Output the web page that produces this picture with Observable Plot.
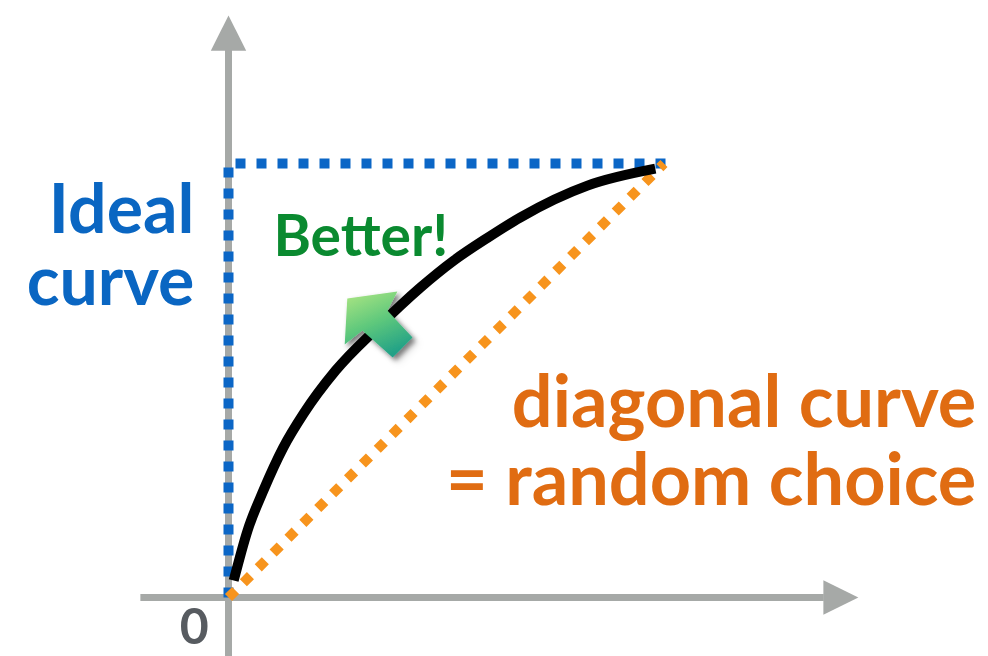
<!DOCTYPE html>
<html><head><meta charset="utf-8">
<script src="https://cdn.jsdelivr.net/npm/d3@7"></script>
<script src="https://cdn.jsdelivr.net/npm/@observablehq/plot@0.6"></script>
<style>html,body{margin:0;padding:0;background:#fff;} #chart svg{display:block;}</style>
</head><body><div id="chart"></div>
<script>
// Classifier curve: false-positive share vs true-positive share
const curveX = [0.012, 0.044, 0.081, 0.127, 0.174, 0.248, 0.345, 0.444, 0.521, 0.600, 0.676, 0.831, 0.988];
const curveY = [0.039, 0.154, 0.247, 0.346, 0.424, 0.523, 0.622, 0.714, 0.776, 0.829, 0.876, 0.949, 0.988];
// Ideal curve: straight up, then across
const idealX = [0, 0, 1.018];
const idealY = [0, 1, 1];
// Diagonal = random choice
const diagX = [0, 1.008];
const diagY = [0, 1];
// Axis lines (with arrowheads)
const vAxisY = [-0.14, 1.262];
const hAxisX = [-0.204, 1.378];
const vHeadX = [-0.041, 0.041, 0];
const vHeadY = [1.260, 1.260, 1.341];
const hHeadX = [1.377, 1.377, 1.458];
const hHeadY = [0.040, -0.040, 0];
// "Better!" arrow outline
const betterX = [0.275, 0.391, 0.368, 0.426, 0.380, 0.310, 0.269];
const betterY = [0.689, 0.705, 0.661, 0.599, 0.553, 0.615, 0.583];
// Labels
const blueText = ["Ideal", "curve"];
const blueX = [-0.079, -0.079];
const blueY = [0.841, 0.673];
const greenText = ["Better!"];
const greenX = [0.104];
const greenY = [0.788];
const orangeText = ["diagonal curve", "= random choice"];
const orangeX = [1.731, 1.731];
const orangeY = [0.394, 0.212];
const zeroText = ["0"];
const zeroX = [-0.079];
const zeroY = [-0.108];

const pts = (xs, ys) => xs.map((x, i) => ({x, y: ys[i]}));
const lbl = (ts, xs, ys) => ts.map((t, i) => ({t, x: xs[i], y: ys[i]}));

const gray = "#a6a9a7";
const FONT = "Lato, 'Open Sans', sans-serif";

const chart = Plot.plot({
  width: 988, height: 656,
  marginLeft: 228, marginRight: 328, marginTop: 163, marginBottom: 59,
  x: {domain: [0, 1], axis: null},
  y: {domain: [0, 1], axis: null},
  style: {background: "white", overflow: "visible"},
  marks: [
    Plot.line(pts([0, 0], vAxisY), {x: "x", y: "y", stroke: gray, strokeWidth: 7, strokeLinecap: "butt"}),
    Plot.line(pts(hAxisX, [0, 0]), {x: "x", y: "y", stroke: gray, strokeWidth: 7, strokeLinecap: "butt"}),
    Plot.line(pts(vHeadX, vHeadY), {x: "x", y: "y", fill: gray, stroke: "none"}),
    Plot.line(pts(hHeadX, hHeadY), {x: "x", y: "y", fill: gray, stroke: "none"}),
    Plot.line(pts(idealX, idealY), {x: "x", y: "y", stroke: "#0b66c6", strokeWidth: 10, strokeDasharray: "10,11", strokeLinecap: "butt", strokeLinejoin: "miter"}),
    Plot.line(pts(diagX, diagY), {x: "x", y: "y", stroke: "#f7941d", strokeWidth: 10, strokeDasharray: "10,11", strokeLinecap: "butt"}),
    Plot.line(pts(curveX, curveY), {x: "x", y: "y", stroke: "black", strokeWidth: 10, strokeLinecap: "butt", curve: "monotone-x"}),
    Plot.line(pts(betterX, betterY), {x: "x", y: "y", fill: "url(#betterGrad)", stroke: "none"}),
    Plot.text(lbl(blueText, blueX, blueY), {x: "x", y: "y", text: "t", textAnchor: "end", lineAnchor: "bottom", fill: "#0a66c2", fontSize: 68, fontWeight: 700, fontFamily: FONT}),
    Plot.text(lbl(greenText, greenX, greenY), {x: "x", y: "y", text: "t", textAnchor: "start", lineAnchor: "bottom", fill: "#0a8a30", fontSize: 57, fontWeight: 700, fontFamily: FONT}),
    Plot.text(lbl(orangeText, orangeX, orangeY), {x: "x", y: "y", text: "t", textAnchor: "end", lineAnchor: "bottom", fill: "#e06c12", fontSize: 72, fontWeight: 700, fontFamily: FONT}),
    Plot.text(lbl(zeroText, zeroX, zeroY), {x: "x", y: "y", text: "t", textAnchor: "middle", lineAnchor: "bottom", fill: "#575b60", fontSize: 50, fontWeight: 700, fontFamily: FONT})
  ]
});

// gradient + soft shadow for the "Better!" arrow
const svg = d3.select(chart);
const defs = svg.insert("defs", ":first-child");
const g = defs.append("linearGradient").attr("id", "betterGrad")
  .attr("x1", 0.15).attr("y1", 0).attr("x2", 0.6).attr("y2", 1);
g.append("stop").attr("offset", 0).attr("stop-color", "#a8e482");
g.append("stop").attr("offset", 0.5).attr("stop-color", "#5ec87c");
g.append("stop").attr("offset", 1).attr("stop-color", "#20a087");
const f = defs.append("filter").attr("id", "betterShadow").attr("x", "-20%").attr("y", "-20%").attr("width", "150%").attr("height", "150%");
f.append("feDropShadow").attr("dx", 3).attr("dy", 3).attr("stdDeviation", 2.5).attr("flood-color", "#000").attr("flood-opacity", 0.3);
svg.selectAll("path").filter(function() { return (this.getAttribute("fill") || this.parentNode.getAttribute("fill") || "").startsWith("url(#betterGrad"); })
  .attr("filter", "url(#betterShadow)");
svg.selectAll("g").filter(function() { return (this.getAttribute("fill") || "").startsWith("url(#betterGrad"); })
  .attr("filter", "url(#betterShadow)");

document.getElementById("chart").appendChild(chart);
</script>
</body></html>
